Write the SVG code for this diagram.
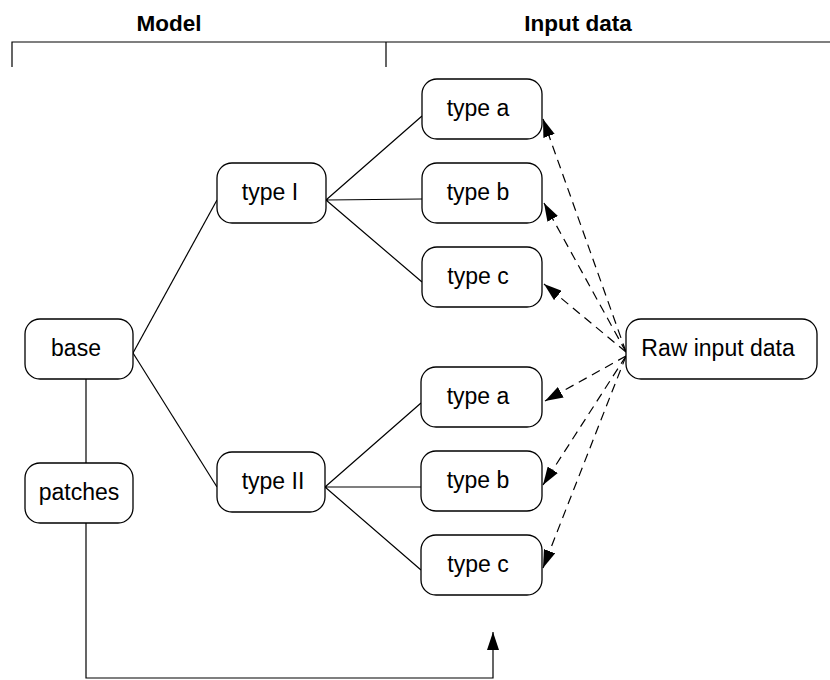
<svg xmlns="http://www.w3.org/2000/svg" width="830" height="680" viewBox="0 0 830 680">
<style>
.box{fill:#fff;stroke:#000;stroke-width:1.3}
.lbl{font-family:"Liberation Sans",Arial,sans-serif;font-size:23px;fill:#000;text-anchor:middle}
.hdr{font-family:"Liberation Sans",Arial,sans-serif;font-size:22.5px;font-weight:bold;fill:#000;text-anchor:middle}
.ln{fill:none;stroke:#000;stroke-width:1.2}
.dash{fill:none;stroke:#000;stroke-width:1.2;stroke-dasharray:9,6}
</style>
<defs>
<marker id="ah" markerUnits="userSpaceOnUse" markerWidth="18" markerHeight="12" refX="18" refY="6" orient="auto">
<path d="M0,0 L18,6 L0,12 z" fill="#000"/>
</marker>
</defs>
<rect width="830" height="680" fill="#fff"/>
<g id="header">
<text class="hdr" x="169" y="31">Model</text>
<text class="hdr" x="578" y="31">Input data</text>
<path class="ln" d="M12,67 V42 H830 M386,42 V67"/>
</g>
<g id="connectors">
<path class="ln" d="M133,353 L217,200"/>
<path class="ln" d="M133,353 L217,487"/>
<path class="ln" d="M326,200 L422,116 M326,200 L422,199 M326,200 L422,282"/>
<path class="ln" d="M325,487 L421,403 M325,487 L421,487 M325,487 L421,570"/>
<path class="ln" d="M86,379 V463"/>
<path class="ln" d="M86,523 V678 H493 V632" marker-end="url(#ah)"/>
<path class="dash" d="M626,352 L543,119" marker-end="url(#ah)"/>
<path class="dash" d="M626,352 L544,203" marker-end="url(#ah)"/>
<path class="dash" d="M626,352 L544,284" marker-end="url(#ah)"/>
<path class="dash" d="M626,356 L545,401" marker-end="url(#ah)"/>
<path class="dash" d="M626,356 L543,485" marker-end="url(#ah)"/>
<path class="dash" d="M626,356 L543,568" marker-end="url(#ah)"/>
</g>
<g id="base"><rect class="box" x="25" y="319" width="108" height="60" rx="15"/><text class="lbl" x="76" y="356">base</text></g>
<g id="patches"><rect class="box" x="25" y="463" width="108" height="60" rx="15"/><text class="lbl" x="79" y="500">patches</text></g>
<g id="typeI"><rect class="box" x="217" y="163" width="109" height="60" rx="15"/><text class="lbl" x="270" y="200">type I</text></g>
<g id="typeII"><rect class="box" x="217" y="452" width="108" height="60" rx="15"/><text class="lbl" x="273" y="489">type II</text></g>
<g id="typeI_a"><rect class="box" x="422" y="79" width="120" height="60" rx="15"/><text class="lbl" x="478" y="116">type a</text></g>
<g id="typeI_b"><rect class="box" x="422" y="163" width="120" height="60" rx="15"/><text class="lbl" x="478" y="200">type b</text></g>
<g id="typeI_c"><rect class="box" x="422" y="247" width="120" height="60" rx="15"/><text class="lbl" x="478" y="284">type c</text></g>
<g id="typeII_a"><rect class="box" x="421" y="367" width="121" height="60" rx="15"/><text class="lbl" x="478" y="404">type a</text></g>
<g id="typeII_b"><rect class="box" x="421" y="451" width="121" height="60" rx="15"/><text class="lbl" x="478" y="488">type b</text></g>
<g id="typeII_c"><rect class="box" x="421" y="535" width="121" height="60" rx="15"/><text class="lbl" x="478" y="572">type c</text></g>
<g id="raw"><rect class="box" x="626" y="319" width="191" height="60" rx="15"/><text class="lbl" x="718" y="356">Raw input data</text></g>
</svg>
